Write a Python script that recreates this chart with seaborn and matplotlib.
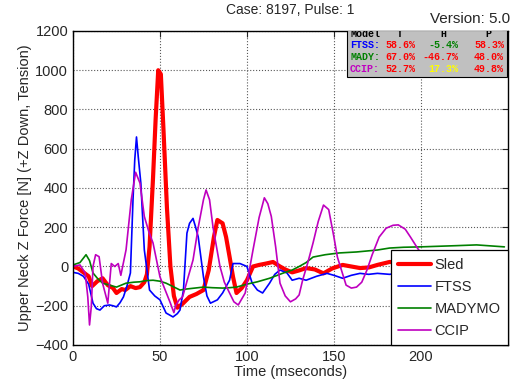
import matplotlib
matplotlib.use("Agg")
import matplotlib.pyplot as plt
import seaborn as sns
import pandas as pd
from matplotlib.patches import Rectangle

# values
sled_t = [0, 3, 6, 9, 11, 14, 17, 20, 23, 25, 28, 30, 33, 36, 38.5, 41, 42.5, 44, 46, 47.5,
          49, 50.5, 52, 54, 56, 58, 60, 63, 67, 71, 75, 78, 81, 83, 86, 88, 90, 92, 94, 97,
          100, 103.5, 107, 111, 115, 119, 122, 126, 130, 134, 139, 144, 149, 155, 160, 165,
          170, 175, 182, 190, 200, 210, 220, 230, 240, 248]
sled_f = [0, -10, -30, -50, -100, -75, -60, -95, -110, -135, -115, -120, -100, -110, -105, -80,
          -40, 100, 450, 750, 1000, 980, 700, 300, 0, -150, -210, -190, -155, -140, -120, -20,
          150, 237, 220, 150, 50, -53, -135, -110, -70, 0, 8, 15, 23, 0, -15, -30, -20, -8,
          -15, -35, -10, 8, 0, -8, -5, 8, 23, 20, 15, 20, 25, 30, 20, 30]

ftss_t = [0, 3, 6, 9, 11.5, 13.5, 15.5, 18, 21, 23, 25, 27, 29, 31, 33, 34.5, 35.5, 36.5, 37.5,
          39, 41, 44, 47, 50, 53.5, 57.5, 60, 61.5, 63.5, 65.5, 67, 69, 70.5, 72, 75, 77, 79,
          83, 86, 90, 92, 96, 100, 103, 106, 109, 113, 116, 119, 123, 126, 130, 134, 140, 146,
          150, 155, 160, 165, 170, 175, 182, 190, 200, 210, 220, 230, 240, 248]
ftss_f = [-30, -35, -50, -90, -187, -215, -222, -200, -196, -200, -206, -185, -155, -100, -33,
          340, 543, 660, 560, 425, 85, -120, -150, -170, -237, -257, -240, -222, -120, 170, 220,
          245, 200, 150, -53, -150, -187, -170, -135, -70, 15, 15, 0, -85, -120, -135, -85, -40,
          -18, -33, -70, -60, -70, -50, -35, -45, -60, -45, -35, -40, -35, -40, -30, -35, -30,
          -25, -30, -35, -40]

mady_t = [0, 4, 7.5, 9.5, 11.5, 14, 17, 21, 25, 30.5, 35, 38.5, 42, 46, 50, 53.5, 57, 61.5, 65,
          70, 75, 80, 86, 90, 94, 100, 106, 113, 121, 126, 130, 134, 138, 145, 153, 163, 175,
          182, 190, 200, 210, 220, 232, 240, 248]
mady_f = [8, 20, 60, 30, -33, -60, -85, -95, -105, -85, -80, -78, -72, -70, -75, -85, -100, -120,
          -115, -110, -105, -108, -110, -108, -105, -90, -78, -60, -33, -18, 0, 20, 48, 60, 69,
          74, 84, 94, 98, 100, 103, 106, 110, 105, 100]

ccip_t = [0, 4, 7, 8.5, 9.5, 10.5, 11.5, 13, 15, 17, 20, 22, 24, 26, 27.5, 30.5, 33.5, 36, 38.5,
          41, 43.5, 46, 50, 53, 56, 58, 59, 61, 63, 66, 69, 72, 75, 76.5, 78.5, 80.5, 84.5, 87,
          90, 92.5, 95, 99, 103.5, 107, 110, 112, 114, 116.5, 119, 122, 125, 128, 130, 132, 135,
          138, 141, 144, 147, 150, 152, 157, 160, 163, 166, 169, 172, 176, 180, 184, 187, 191,
          194, 198, 203, 210, 220, 230, 240, 248]
ccip_f = [0, 8, -33, -155, -298, -206, 0, 60, 50, -85, -187, 15, 0, 15, -45, 85, 340, 480, 425,
          255, 180, 120, -53, -120, -187, -235, -200, -170, -155, -60, 33, 200, 340, 390, 340,
          200, 0, -80, -135, -180, -196, -135, 85, 250, 350, 320, 255, 100, -85, -150, -180,
          -165, -145, -70, 20, 120, 230, 313, 290, 150, 48, -95, -110, -105, -80, -18, 60, 150,
          195, 210, 212, 190, 150, 94, 30, -20, 0, 30, 60, 80]

series_names = ["Sled", "FTSS", "MADYMO", "CCIP"]
series_colors = ["#ff0000", "#0000ff", "#008000", "#bf00bf"]
series_widths = [3.0, 1.2, 1.2, 1.2]

table_rows = ["FTSS:", "MADY:", "CCIP:"]
table_row_colors = ["#0000ff", "#008000", "#bf00bf"]
table_vals = [["58.6%", "-5.4%", "58.3%"],
              ["67.0%", "-46.7%", "48.0%"],
              ["52.7%", "17.3%", "49.8%"]]
table_val_colors = [["#ff0000", "#008000", "#ff0000"],
                    ["#ff0000", "#ff0000", "#ff0000"],
                    ["#ff0000", "#ffff00", "#ff0000"]]

sns.set_style("white")
plt.rcParams["font.family"] = ["Liberation Sans", "DejaVu Sans"]

fig = plt.figure(figsize=(5.13, 3.92), dpi=100)
ax = fig.add_axes([0.1423, 0.1199, 0.8477, 0.8011])

data = [(sled_t, sled_f), (ftss_t, ftss_f), (mady_t, mady_f), (ccip_t, ccip_f)]
for (t, f), name, col, lw in zip(data, series_names, series_colors, series_widths):
    df = pd.DataFrame({"t": t, "f": f})
    sns.lineplot(data=df, x="t", y="f", ax=ax, color=col, linewidth=lw, label=name,
                 estimator=None)

ax.set_xlim(0, 250)
ax.set_ylim(-400, 1200)
ax.set_xticks([0, 50, 100, 150, 200])
ax.set_yticks(range(-400, 1201, 200))
ax.tick_params(direction="in", top=True, right=True, length=4, labelsize=10.5, width=0.8)
ax.grid(True, linestyle=":", color="0.35", linewidth=0.8)
for s in ax.spines.values():
    s.set_color("black")
    s.set_linewidth(1.0)
ax.set_xlabel("Time (mseconds)", fontsize=10.5, labelpad=1)
ax.set_ylabel("Upper Neck Z Force [N] (+Z Down, Tension)", fontsize=10.5, labelpad=2)

leg = ax.legend(loc="lower right", fontsize=10.5, fancybox=False, edgecolor="black",
                framealpha=1, borderaxespad=0, handlelength=2.25, handletextpad=0.25,
                labelspacing=0.55, borderpad=0.5)
leg.get_frame().set_linewidth(0.9)

# comparison table in top right
ax.add_patch(Rectangle((0.630, 0.854), 0.368, 0.15, transform=ax.transAxes,
                       facecolor="#c0c0c0", edgecolor="black", linewidth=0.8, zorder=5,
                       clip_on=True))
mono = dict(family="Liberation Mono", fontweight="bold", fontsize=7.2, transform=ax.transAxes,
            zorder=6, va="center", clip_on=True)
head_y = 0.99
ax.text(0.637, head_y, "Model", ha="left", color="black", **mono)
for x, h in zip([0.752, 0.852, 0.955], ["T", "H", "P"]):
    ax.text(x, head_y, h, ha="center", color="black", **mono)
row_y = [0.955, 0.917, 0.880]
col_x = [0.788, 0.887, 0.991]
for i in range(3):
    ax.text(0.637, row_y[i], table_rows[i], ha="left", color=table_row_colors[i], **mono)
    for j in range(3):
        ax.text(col_x[j], row_y[i], table_vals[i][j], ha="right",
                color=table_val_colors[i][j], **mono)

fig.text(0.566, 0.975, "Case: 8197, Pulse: 1", ha="center", va="center", fontsize=10)
fig.text(0.994, 0.952, "Version: 5.0", ha="right", va="center", fontsize=11)

fig.savefig("out.png", dpi=100)
